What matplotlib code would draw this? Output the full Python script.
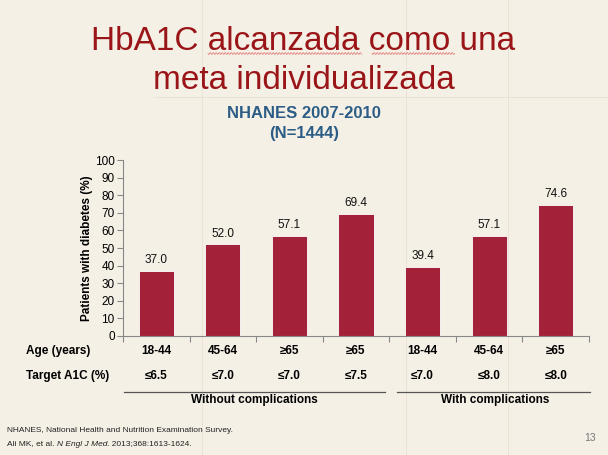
import matplotlib
matplotlib.use("Agg")
import matplotlib.pyplot as plt
import numpy as np

plt.rcParams['font.family'] = ['Liberation Sans', 'DejaVu Sans']

ages = ["18-44", "45-64", "≥65", "≥65", "18-44", "45-64", "≥65"]
targets = ["≤6.5", "≤7.0", "≤7.0", "≤7.5", "≤7.0", "≤8.0", "≤8.0"]
values = [37.0, 52.0, 57.1, 69.4, 39.4, 57.1, 74.6]
groups = ["Without complications", "With complications"]

W, H = 608, 455
fig = plt.figure(figsize=(W/100, H/100), dpi=100)
fig.patch.set_facecolor('#f5f0e6')

def fy(py):
    return 1 - py/H

# faint slide template lines
for xv in [202, 406, 508]:
    fig.add_artist(plt.Line2D([xv/W, xv/W], [0, 1], color='#e9e2d5', lw=0.7, zorder=0))
fig.add_artist(plt.Line2D([155/W, 1], [fy(97), fy(97)], color='#e9e2d5', lw=0.7, zorder=0))

ax_l, ax_r, ax_b, ax_t = 123, 589, 336, 160
ax = fig.add_axes([ax_l/W, 1-ax_b/H, (ax_r-ax_l)/W, (ax_b-ax_t)/H])
ax.set_facecolor('none')

x = np.arange(len(values))
ax.bar(x, values, width=0.53, color='#a3223a', edgecolor='white', linewidth=0.6)
for xi, v in zip(x, values):
    ax.text(xi, v + 2.5, f"{v:.1f}", ha='center', va='bottom', fontsize=8.5, color='#111111')

ax.set_xlim(-0.5, len(values)-0.5)
ax.set_ylim(0, 100)
ax.set_yticks(range(0, 101, 10))
ax.tick_params(axis='y', labelsize=8.5, length=4, direction='out', color='#888888', width=0.8, pad=2)
ax.set_xticks(np.arange(-0.5, len(values), 1))
ax.set_xticklabels([])
ax.tick_params(axis='x', length=4, direction='out', color='#888888', width=0.8)
for s in ['top', 'right']:
    ax.spines[s].set_visible(False)
ax.spines['left'].set_color('#888888')
ax.spines['bottom'].set_color('#888888')
ax.set_ylabel("Patients with diabetes (%)", fontsize=8.5, fontweight='bold', labelpad=1)

for xi, a, t in zip(x, ages, targets):
    xd = ax.transData.transform((xi, 0))[0] / fig.dpi / fig.get_figwidth()
    fig.text(xd, fy(351), a, ha='center', va='center', fontsize=8.5, fontweight='bold')
    fig.text(xd, fy(376), t, ha='center', va='center', fontsize=8.5, fontweight='bold')
fig.text(26/W, fy(351), "Age (years)", ha='left', va='center', fontsize=8.5, fontweight='bold')
fig.text(26/W, fy(376), "Target A1C (%)", ha='left', va='center', fontsize=8.5, fontweight='bold')

line_spans = [(124, 385), (397, 590)]
label_centers = [254, 495]
for (l, r), g, c in zip(line_spans, groups, label_centers):
    fig.add_artist(plt.Line2D([l/W, r/W], [fy(392), fy(392)], color='#555555', lw=0.9))
    fig.text(c/W, fy(400), g, ha='center', va='center', fontsize=8.5, fontweight='bold')

# titles
title_color = '#9a1518'
fig.text(303.5/W, fy(50), "HbA1C alcanzada como una", ha='center', va='baseline', fontsize=24, color=title_color)
fig.text(303.5/W, fy(89), "meta individualizada", ha='center', va='baseline', fontsize=24, color=title_color)
# spell-check squiggles
for l, r in [(208, 362), (372, 455)]:
    xs = np.arange(l, r, 0.5)
    ys = 53.5 + 0.9 * np.sin((xs - l) * np.pi / 1.5)
    fig.add_artist(plt.Line2D(xs / W, fy(ys), color='#e06a6a', lw=0.5))

fig.text(304/W, fy(118), "NHANES 2007-2010", ha='center', va='baseline', fontsize=12, fontweight='bold', color='#2b5d86')
fig.text(304/W, fy(138), "(N=1444)", ha='center', va='baseline', fontsize=12, fontweight='bold', color='#2b5d86')

# footnotes
fs = 6.0
fig.text(7/W, fy(430), "NHANES, National Health and Nutrition Examination Survey.", ha='left', va='center', fontsize=fs, color='#222222')
t1 = fig.text(7/W, fy(444), "Ali MK, et al. ", ha='left', va='center', fontsize=fs, color='#222222')
fig.canvas.draw()
bb = t1.get_window_extent()
t2 = fig.text(bb.x1/W, fy(444), "N Engl J Med", ha='left', va='center', fontsize=fs, style='italic', color='#222222')
fig.canvas.draw()
bb2 = t2.get_window_extent()
fig.text(bb2.x1/W, fy(444), ". 2013;368:1613-1624.", ha='left', va='center', fontsize=fs, color='#222222')
fig.text(596/W, fy(438), "13", ha='right', va='center', fontsize=7.5, color='#777777')

fig.savefig("out.png", dpi=100, facecolor=fig.get_facecolor())
